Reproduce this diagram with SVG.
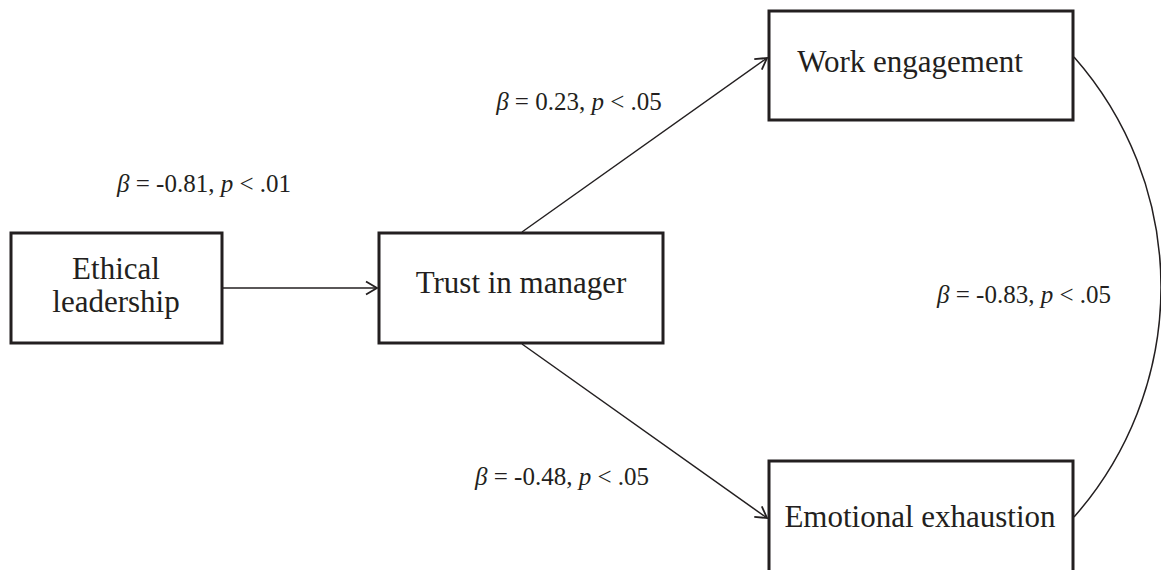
<svg xmlns="http://www.w3.org/2000/svg" width="1161" height="570" viewBox="0 0 1161 570">
<style>
.box{fill:#fff;stroke:#231f20;stroke-width:3}
.lbl{font-family:"Liberation Serif",serif;font-size:31px;fill:#231f20;text-anchor:middle}
.coef{font-family:"Liberation Serif",serif;font-size:25px;fill:#231f20;text-anchor:middle}
.it{font-style:italic}
.edge{fill:none;stroke:#231f20;stroke-width:1.5}
</style>
<defs>
<marker id="arr" markerUnits="userSpaceOnUse" markerWidth="16" markerHeight="16" viewBox="0 0 16 16" refX="14" refY="8" orient="auto">
<path d="M3,1.5 L14,8 L3,14.5" fill="none" stroke="#231f20" stroke-width="1.8"/>
</marker>
</defs>
<rect width="1161" height="570" fill="#fff"/>
<g id="connectors">
<line class="edge" x1="223" y1="288" x2="377" y2="288" marker-end="url(#arr)"/>
<line class="edge" x1="522" y1="232" x2="767" y2="58" marker-end="url(#arr)"/>
<line class="edge" x1="522" y1="344" x2="767" y2="518" marker-end="url(#arr)"/>
<path class="edge" d="M1074,57 A347.5,347.5 0 0 1 1074,517"/>
</g>
<g id="node-ethical">
<rect class="box" x="11" y="233" width="211" height="110"/>
<text class="lbl" x="116" y="279">Ethical</text>
<text class="lbl" x="116" y="312">leadership</text>
</g>
<g id="node-trust">
<rect class="box" x="379" y="233" width="284" height="110"/>
<text class="lbl" x="521" y="293">Trust in manager</text>
</g>
<g id="node-work">
<rect class="box" x="769" y="11" width="304" height="109"/>
<text class="lbl" x="910" y="72">Work engagement</text>
</g>
<g id="node-exhaustion">
<rect class="box" x="769" y="461" width="304" height="112"/>
<text class="lbl" x="920" y="527">Emotional exhaustion</text>
</g>
<g id="labels">
<text class="coef" x="204" y="192"><tspan class="it">β</tspan> = -0.81, <tspan class="it">p</tspan> &lt; .01</text>
<text class="coef" x="579" y="110"><tspan class="it">β</tspan> = 0.23, <tspan class="it">p</tspan> &lt; .05</text>
<text class="coef" x="562" y="485"><tspan class="it">β</tspan> = -0.48, <tspan class="it">p</tspan> &lt; .05</text>
<text class="coef" x="1024" y="303"><tspan class="it">β</tspan> = -0.83, <tspan class="it">p</tspan> &lt; .05</text>
</g>
</svg>
